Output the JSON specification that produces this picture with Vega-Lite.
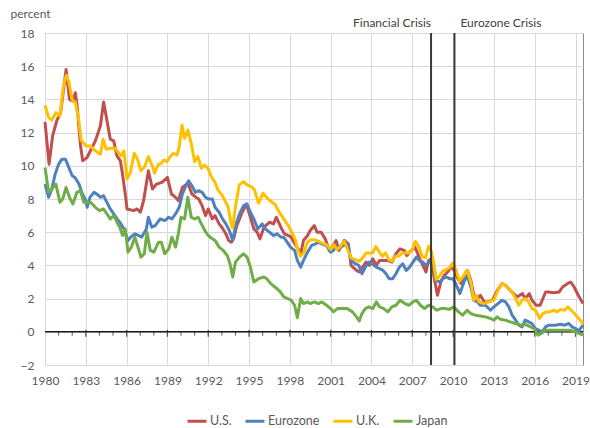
{
"$schema": "https://vega.github.io/schema/vega-lite/v6.json",
"width": 538, "height": 332,
"autosize": {"type": "none"},
"padding": {"left": 45, "top": 33, "right": 7, "bottom": 63},
"config": {
  "font": "Lato",
  "view": {"stroke": "#8c8c8c", "strokeWidth": 1},
  "axis": {"labelColor": "#595959", "labelFontSize": 12, "gridColor": "#d9d9d9", "gridWidth": 1, "domain": false, "ticks": false, "labelOverlap": false}
},
"datasets": {
  "yields": [
{"s":"U.S.","t":1980.0,"v":12.65},{"s":"U.S.","t":1980.3,"v":10.1},{"s":"U.S.","t":1980.56,"v":11.8},{"s":"U.S.","t":1980.86,"v":12.7},{"s":"U.S.","t":1981.15,"v":13.2},{"s":"U.S.","t":1981.55,"v":15.8},{"s":"U.S.","t":1981.8,"v":14.0},{"s":"U.S.","t":1982.05,"v":13.9},{"s":"U.S.","t":1982.23,"v":14.4},{"s":"U.S.","t":1982.35,"v":13.7},{"s":"U.S.","t":1982.6,"v":11.3},{"s":"U.S.","t":1982.77,"v":10.3},{"s":"U.S.","t":1983.09,"v":10.5},{"s":"U.S.","t":1983.46,"v":11.1},{"s":"U.S.","t":1983.7,"v":11.5},{"s":"U.S.","t":1984.07,"v":12.4},{"s":"U.S.","t":1984.31,"v":13.85},{"s":"U.S.","t":1984.56,"v":12.7},{"s":"U.S.","t":1984.8,"v":11.6},{"s":"U.S.","t":1985.05,"v":11.5},{"s":"U.S.","t":1985.29,"v":10.6},{"s":"U.S.","t":1985.54,"v":10.3},{"s":"U.S.","t":1985.66,"v":9.7},{"s":"U.S.","t":1985.9,"v":8.3},{"s":"U.S.","t":1986.03,"v":7.4},{"s":"U.S.","t":1986.52,"v":7.3},{"s":"U.S.","t":1986.77,"v":7.4},{"s":"U.S.","t":1987.01,"v":7.2},{"s":"U.S.","t":1987.25,"v":7.9},{"s":"U.S.","t":1987.6,"v":9.7},{"s":"U.S.","t":1987.9,"v":8.6},{"s":"U.S.","t":1988.2,"v":8.9},{"s":"U.S.","t":1988.6,"v":9.0},{"s":"U.S.","t":1989.0,"v":9.3},{"s":"U.S.","t":1989.3,"v":8.3},{"s":"U.S.","t":1989.6,"v":8.1},{"s":"U.S.","t":1989.8,"v":7.9},{"s":"U.S.","t":1990.1,"v":8.7},{"s":"U.S.","t":1990.5,"v":8.95},{"s":"U.S.","t":1990.8,"v":8.3},{"s":"U.S.","t":1991.1,"v":8.1},{"s":"U.S.","t":1991.3,"v":8.0},{"s":"U.S.","t":1991.55,"v":7.6},{"s":"U.S.","t":1991.8,"v":7.0},{"s":"U.S.","t":1992.0,"v":7.4},{"s":"U.S.","t":1992.3,"v":6.8},{"s":"U.S.","t":1992.5,"v":7.0},{"s":"U.S.","t":1992.8,"v":6.5},{"s":"U.S.","t":1993.0,"v":6.3},{"s":"U.S.","t":1993.3,"v":5.9},{"s":"U.S.","t":1993.5,"v":5.5},{"s":"U.S.","t":1993.7,"v":5.4},{"s":"U.S.","t":1993.9,"v":5.7},{"s":"U.S.","t":1994.1,"v":6.4},{"s":"U.S.","t":1994.5,"v":7.2},{"s":"U.S.","t":1994.8,"v":7.7},{"s":"U.S.","t":1995.1,"v":6.9},{"s":"U.S.","t":1995.35,"v":6.2},{"s":"U.S.","t":1995.6,"v":6.0},{"s":"U.S.","t":1995.8,"v":5.6},{"s":"U.S.","t":1996.1,"v":6.3},{"s":"U.S.","t":1996.5,"v":6.6},{"s":"U.S.","t":1996.8,"v":6.5},{"s":"U.S.","t":1997.0,"v":6.9},{"s":"U.S.","t":1997.4,"v":6.2},{"s":"U.S.","t":1997.6,"v":5.9},{"s":"U.S.","t":1997.9,"v":5.8},{"s":"U.S.","t":1998.1,"v":5.7},{"s":"U.S.","t":1998.3,"v":5.4},{"s":"U.S.","t":1998.6,"v":5.0},{"s":"U.S.","t":1998.8,"v":4.7},{"s":"U.S.","t":1999.0,"v":5.5},{"s":"U.S.","t":1999.3,"v":5.8},{"s":"U.S.","t":1999.5,"v":6.1},{"s":"U.S.","t":1999.8,"v":6.4},{"s":"U.S.","t":2000.0,"v":6.0},{"s":"U.S.","t":2000.3,"v":6.0},{"s":"U.S.","t":2000.6,"v":5.6},{"s":"U.S.","t":2000.9,"v":4.9},{"s":"U.S.","t":2001.1,"v":5.1},{"s":"U.S.","t":2001.4,"v":5.5},{"s":"U.S.","t":2001.6,"v":4.9},{"s":"U.S.","t":2002.0,"v":5.5},{"s":"U.S.","t":2002.3,"v":5.3},{"s":"U.S.","t":2002.5,"v":4.0},{"s":"U.S.","t":2002.9,"v":3.7},{"s":"U.S.","t":2003.1,"v":3.6},{"s":"U.S.","t":2003.35,"v":3.9},{"s":"U.S.","t":2003.6,"v":4.2},{"s":"U.S.","t":2003.85,"v":4.0},{"s":"U.S.","t":2004.1,"v":4.4},{"s":"U.S.","t":2004.35,"v":4.0},{"s":"U.S.","t":2004.6,"v":4.3},{"s":"U.S.","t":2004.85,"v":4.3},{"s":"U.S.","t":2005.2,"v":4.3},{"s":"U.S.","t":2005.5,"v":4.2},{"s":"U.S.","t":2005.8,"v":4.7},{"s":"U.S.","t":2006.1,"v":5.0},{"s":"U.S.","t":2006.4,"v":4.9},{"s":"U.S.","t":2006.6,"v":4.6},{"s":"U.S.","t":2006.8,"v":4.8},{"s":"U.S.","t":2007.2,"v":5.1},{"s":"U.S.","t":2007.4,"v":4.7},{"s":"U.S.","t":2007.6,"v":4.3},{"s":"U.S.","t":2007.9,"v":3.8},{"s":"U.S.","t":2008.0,"v":3.6},{"s":"U.S.","t":2008.2,"v":4.3},{"s":"U.S.","t":2008.4,"v":4.4},{"s":"U.S.","t":2008.6,"v":3.3},{"s":"U.S.","t":2008.85,"v":2.2},{"s":"U.S.","t":2009.1,"v":3.0},{"s":"U.S.","t":2009.35,"v":3.4},{"s":"U.S.","t":2009.6,"v":3.6},{"s":"U.S.","t":2009.85,"v":3.9},{"s":"U.S.","t":2010.1,"v":3.7},{"s":"U.S.","t":2010.35,"v":3.2},{"s":"U.S.","t":2010.6,"v":2.9},{"s":"U.S.","t":2010.8,"v":3.4},{"s":"U.S.","t":2011.05,"v":3.7},{"s":"U.S.","t":2011.3,"v":3.1},{"s":"U.S.","t":2011.55,"v":2.1},{"s":"U.S.","t":2011.8,"v":2.0},{"s":"U.S.","t":2012.0,"v":2.2},{"s":"U.S.","t":2012.3,"v":1.8},{"s":"U.S.","t":2012.55,"v":1.8},{"s":"U.S.","t":2012.9,"v":1.9},{"s":"U.S.","t":2013.25,"v":2.5},{"s":"U.S.","t":2013.6,"v":2.9},{"s":"U.S.","t":2013.85,"v":2.8},{"s":"U.S.","t":2014.2,"v":2.5},{"s":"U.S.","t":2014.45,"v":2.3},{"s":"U.S.","t":2014.7,"v":2.1},{"s":"U.S.","t":2015.1,"v":2.3},{"s":"U.S.","t":2015.3,"v":2.0},{"s":"U.S.","t":2015.6,"v":2.3},{"s":"U.S.","t":2015.8,"v":1.9},{"s":"U.S.","t":2016.1,"v":1.6},{"s":"U.S.","t":2016.4,"v":1.6},{"s":"U.S.","t":2016.8,"v":2.4},{"s":"U.S.","t":2017.0,"v":2.4},{"s":"U.S.","t":2017.4,"v":2.35},{"s":"U.S.","t":2017.8,"v":2.4},{"s":"U.S.","t":2018.05,"v":2.7},{"s":"U.S.","t":2018.4,"v":2.9},{"s":"U.S.","t":2018.65,"v":3.0},{"s":"U.S.","t":2018.9,"v":2.7},{"s":"U.S.","t":2019.2,"v":2.2},{"s":"U.S.","t":2019.55,"v":1.7},
{"s":"Eurozone","t":1980.0,"v":8.9},{"s":"Eurozone","t":1980.27,"v":8.1},{"s":"Eurozone","t":1980.5,"v":8.6},{"s":"Eurozone","t":1980.75,"v":9.5},{"s":"Eurozone","t":1981.0,"v":10.1},{"s":"Eurozone","t":1981.25,"v":10.4},{"s":"Eurozone","t":1981.5,"v":10.4},{"s":"Eurozone","t":1981.75,"v":9.9},{"s":"Eurozone","t":1982.0,"v":9.4},{"s":"Eurozone","t":1982.2,"v":9.3},{"s":"Eurozone","t":1982.5,"v":8.9},{"s":"Eurozone","t":1982.7,"v":8.4},{"s":"Eurozone","t":1983.0,"v":7.9},{"s":"Eurozone","t":1983.1,"v":7.5},{"s":"Eurozone","t":1983.3,"v":8.1},{"s":"Eurozone","t":1983.6,"v":8.4},{"s":"Eurozone","t":1983.8,"v":8.3},{"s":"Eurozone","t":1984.1,"v":8.1},{"s":"Eurozone","t":1984.3,"v":8.2},{"s":"Eurozone","t":1984.55,"v":7.8},{"s":"Eurozone","t":1984.8,"v":7.4},{"s":"Eurozone","t":1985.05,"v":7.1},{"s":"Eurozone","t":1985.3,"v":6.8},{"s":"Eurozone","t":1985.5,"v":6.6},{"s":"Eurozone","t":1985.8,"v":6.2},{"s":"Eurozone","t":1986.1,"v":5.5},{"s":"Eurozone","t":1986.3,"v":5.7},{"s":"Eurozone","t":1986.6,"v":5.9},{"s":"Eurozone","t":1986.9,"v":5.8},{"s":"Eurozone","t":1987.1,"v":5.7},{"s":"Eurozone","t":1987.45,"v":6.2},{"s":"Eurozone","t":1987.6,"v":6.9},{"s":"Eurozone","t":1987.85,"v":6.3},{"s":"Eurozone","t":1988.1,"v":6.4},{"s":"Eurozone","t":1988.47,"v":6.8},{"s":"Eurozone","t":1988.8,"v":6.7},{"s":"Eurozone","t":1989.1,"v":6.9},{"s":"Eurozone","t":1989.33,"v":6.8},{"s":"Eurozone","t":1989.6,"v":7.1},{"s":"Eurozone","t":1989.87,"v":7.5},{"s":"Eurozone","t":1990.1,"v":8.3},{"s":"Eurozone","t":1990.36,"v":8.8},{"s":"Eurozone","t":1990.56,"v":9.1},{"s":"Eurozone","t":1990.8,"v":8.8},{"s":"Eurozone","t":1991.05,"v":8.4},{"s":"Eurozone","t":1991.3,"v":8.5},{"s":"Eurozone","t":1991.55,"v":8.4},{"s":"Eurozone","t":1991.8,"v":8.1},{"s":"Eurozone","t":1992.0,"v":8.0},{"s":"Eurozone","t":1992.3,"v":8.0},{"s":"Eurozone","t":1992.5,"v":7.5},{"s":"Eurozone","t":1992.8,"v":7.2},{"s":"Eurozone","t":1993.05,"v":6.8},{"s":"Eurozone","t":1993.3,"v":6.5},{"s":"Eurozone","t":1993.55,"v":6.1},{"s":"Eurozone","t":1993.8,"v":5.5},{"s":"Eurozone","t":1994.04,"v":6.5},{"s":"Eurozone","t":1994.3,"v":7.1},{"s":"Eurozone","t":1994.6,"v":7.6},{"s":"Eurozone","t":1994.85,"v":7.7},{"s":"Eurozone","t":1995.1,"v":7.2},{"s":"Eurozone","t":1995.35,"v":6.8},{"s":"Eurozone","t":1995.64,"v":6.2},{"s":"Eurozone","t":1995.96,"v":6.5},{"s":"Eurozone","t":1996.2,"v":6.2},{"s":"Eurozone","t":1996.5,"v":6.0},{"s":"Eurozone","t":1996.8,"v":5.8},{"s":"Eurozone","t":1997.06,"v":5.9},{"s":"Eurozone","t":1997.35,"v":5.7},{"s":"Eurozone","t":1997.55,"v":5.7},{"s":"Eurozone","t":1997.8,"v":5.4},{"s":"Eurozone","t":1998.05,"v":5.1},{"s":"Eurozone","t":1998.35,"v":4.9},{"s":"Eurozone","t":1998.55,"v":4.3},{"s":"Eurozone","t":1998.8,"v":3.9},{"s":"Eurozone","t":1999.0,"v":4.3},{"s":"Eurozone","t":1999.3,"v":4.8},{"s":"Eurozone","t":1999.6,"v":5.2},{"s":"Eurozone","t":1999.9,"v":5.3},{"s":"Eurozone","t":2000.1,"v":5.4},{"s":"Eurozone","t":2000.35,"v":5.3},{"s":"Eurozone","t":2000.7,"v":5.2},{"s":"Eurozone","t":2001.0,"v":4.8},{"s":"Eurozone","t":2001.2,"v":4.9},{"s":"Eurozone","t":2001.5,"v":5.2},{"s":"Eurozone","t":2001.7,"v":5.1},{"s":"Eurozone","t":2002.0,"v":5.2},{"s":"Eurozone","t":2002.25,"v":5.3},{"s":"Eurozone","t":2002.5,"v":4.3},{"s":"Eurozone","t":2002.8,"v":4.1},{"s":"Eurozone","t":2003.07,"v":4.0},{"s":"Eurozone","t":2003.3,"v":3.5},{"s":"Eurozone","t":2003.55,"v":3.9},{"s":"Eurozone","t":2003.8,"v":4.2},{"s":"Eurozone","t":2004.05,"v":4.1},{"s":"Eurozone","t":2004.35,"v":3.9},{"s":"Eurozone","t":2004.6,"v":3.8},{"s":"Eurozone","t":2004.85,"v":3.7},{"s":"Eurozone","t":2005.07,"v":3.5},{"s":"Eurozone","t":2005.3,"v":3.2},{"s":"Eurozone","t":2005.56,"v":3.2},{"s":"Eurozone","t":2005.8,"v":3.5},{"s":"Eurozone","t":2006.05,"v":3.9},{"s":"Eurozone","t":2006.3,"v":4.1},{"s":"Eurozone","t":2006.55,"v":3.7},{"s":"Eurozone","t":2006.8,"v":3.9},{"s":"Eurozone","t":2007.05,"v":4.2},{"s":"Eurozone","t":2007.3,"v":4.5},{"s":"Eurozone","t":2007.5,"v":4.3},{"s":"Eurozone","t":2007.77,"v":4.2},{"s":"Eurozone","t":2008.0,"v":4.0},{"s":"Eurozone","t":2008.26,"v":4.2},{"s":"Eurozone","t":2008.5,"v":4.3},{"s":"Eurozone","t":2008.75,"v":3.1},{"s":"Eurozone","t":2009.0,"v":3.0},{"s":"Eurozone","t":2009.24,"v":3.2},{"s":"Eurozone","t":2009.5,"v":3.3},{"s":"Eurozone","t":2009.73,"v":3.2},{"s":"Eurozone","t":2009.98,"v":3.2},{"s":"Eurozone","t":2010.2,"v":2.9},{"s":"Eurozone","t":2010.5,"v":2.3},{"s":"Eurozone","t":2010.8,"v":3.0},{"s":"Eurozone","t":2011.03,"v":3.4},{"s":"Eurozone","t":2011.3,"v":2.7},{"s":"Eurozone","t":2011.52,"v":1.9},{"s":"Eurozone","t":2011.8,"v":1.8},{"s":"Eurozone","t":2012.0,"v":1.6},{"s":"Eurozone","t":2012.38,"v":1.6},{"s":"Eurozone","t":2012.75,"v":1.3},{"s":"Eurozone","t":2013.0,"v":1.5},{"s":"Eurozone","t":2013.3,"v":1.7},{"s":"Eurozone","t":2013.6,"v":1.9},{"s":"Eurozone","t":2013.85,"v":1.8},{"s":"Eurozone","t":2014.1,"v":1.5},{"s":"Eurozone","t":2014.34,"v":1.0},{"s":"Eurozone","t":2014.6,"v":0.7},{"s":"Eurozone","t":2014.83,"v":0.4},{"s":"Eurozone","t":2015.07,"v":0.3},{"s":"Eurozone","t":2015.3,"v":0.7},{"s":"Eurozone","t":2015.56,"v":0.6},{"s":"Eurozone","t":2015.8,"v":0.5},{"s":"Eurozone","t":2016.05,"v":0.2},{"s":"Eurozone","t":2016.3,"v":0.1},{"s":"Eurozone","t":2016.54,"v":0.0},{"s":"Eurozone","t":2016.8,"v":0.3},{"s":"Eurozone","t":2017.03,"v":0.4},{"s":"Eurozone","t":2017.28,"v":0.4},{"s":"Eurozone","t":2017.5,"v":0.4},{"s":"Eurozone","t":2017.9,"v":0.45},{"s":"Eurozone","t":2018.2,"v":0.4},{"s":"Eurozone","t":2018.5,"v":0.5},{"s":"Eurozone","t":2018.75,"v":0.3},{"s":"Eurozone","t":2019.0,"v":0.2},{"s":"Eurozone","t":2019.24,"v":0.05},{"s":"Eurozone","t":2019.55,"v":0.4},
{"s":"U.K.","t":1980.0,"v":13.65},{"s":"U.K.","t":1980.27,"v":12.9},{"s":"U.K.","t":1980.5,"v":12.75},{"s":"U.K.","t":1980.8,"v":13.2},{"s":"U.K.","t":1981.1,"v":13.0},{"s":"U.K.","t":1981.37,"v":14.9},{"s":"U.K.","t":1981.57,"v":15.45},{"s":"U.K.","t":1981.76,"v":15.05},{"s":"U.K.","t":1982.0,"v":13.95},{"s":"U.K.","t":1982.23,"v":13.85},{"s":"U.K.","t":1982.5,"v":12.65},{"s":"U.K.","t":1982.65,"v":11.55},{"s":"U.K.","t":1983.0,"v":11.2},{"s":"U.K.","t":1983.33,"v":11.2},{"s":"U.K.","t":1983.7,"v":10.9},{"s":"U.K.","t":1984.07,"v":10.7},{"s":"U.K.","t":1984.27,"v":11.6},{"s":"U.K.","t":1984.5,"v":11.0},{"s":"U.K.","t":1984.8,"v":11.05},{"s":"U.K.","t":1985.17,"v":11.05},{"s":"U.K.","t":1985.4,"v":10.8},{"s":"U.K.","t":1985.6,"v":10.6},{"s":"U.K.","t":1985.8,"v":10.9},{"s":"U.K.","t":1986.03,"v":9.2},{"s":"U.K.","t":1986.27,"v":9.6},{"s":"U.K.","t":1986.57,"v":10.75},{"s":"U.K.","t":1986.8,"v":10.4},{"s":"U.K.","t":1987.05,"v":9.7},{"s":"U.K.","t":1987.3,"v":9.9},{"s":"U.K.","t":1987.6,"v":10.55},{"s":"U.K.","t":1987.86,"v":10.05},{"s":"U.K.","t":1988.06,"v":9.55},{"s":"U.K.","t":1988.3,"v":10.05},{"s":"U.K.","t":1988.55,"v":10.15},{"s":"U.K.","t":1988.72,"v":10.35},{"s":"U.K.","t":1988.96,"v":10.25},{"s":"U.K.","t":1989.2,"v":10.55},{"s":"U.K.","t":1989.45,"v":10.75},{"s":"U.K.","t":1989.7,"v":10.65},{"s":"U.K.","t":1989.87,"v":11.15},{"s":"U.K.","t":1990.07,"v":12.45},{"s":"U.K.","t":1990.26,"v":11.65},{"s":"U.K.","t":1990.5,"v":12.15},{"s":"U.K.","t":1990.75,"v":11.35},{"s":"U.K.","t":1991.0,"v":10.25},{"s":"U.K.","t":1991.24,"v":10.55},{"s":"U.K.","t":1991.5,"v":9.85},{"s":"U.K.","t":1991.73,"v":10.05},{"s":"U.K.","t":1991.98,"v":9.85},{"s":"U.K.","t":1992.22,"v":9.35},{"s":"U.K.","t":1992.47,"v":9.05},{"s":"U.K.","t":1992.71,"v":8.55},{"s":"U.K.","t":1993.0,"v":8.25},{"s":"U.K.","t":1993.2,"v":7.95},{"s":"U.K.","t":1993.45,"v":7.55},{"s":"U.K.","t":1993.7,"v":6.45},{"s":"U.K.","t":1993.8,"v":6.25},{"s":"U.K.","t":1994.0,"v":7.55},{"s":"U.K.","t":1994.28,"v":8.85},{"s":"U.K.","t":1994.6,"v":9.05},{"s":"U.K.","t":1994.85,"v":8.85},{"s":"U.K.","t":1995.17,"v":8.75},{"s":"U.K.","t":1995.4,"v":8.55},{"s":"U.K.","t":1995.7,"v":7.75},{"s":"U.K.","t":1996.03,"v":8.35},{"s":"U.K.","t":1996.33,"v":8.05},{"s":"U.K.","t":1996.62,"v":7.85},{"s":"U.K.","t":1996.94,"v":7.65},{"s":"U.K.","t":1997.18,"v":7.25},{"s":"U.K.","t":1997.43,"v":6.95},{"s":"U.K.","t":1997.67,"v":6.65},{"s":"U.K.","t":1997.92,"v":6.35},{"s":"U.K.","t":1998.16,"v":5.95},{"s":"U.K.","t":1998.4,"v":5.55},{"s":"U.K.","t":1998.58,"v":4.95},{"s":"U.K.","t":1998.78,"v":4.55},{"s":"U.K.","t":1999.02,"v":4.75},{"s":"U.K.","t":1999.27,"v":5.35},{"s":"U.K.","t":1999.5,"v":5.55},{"s":"U.K.","t":1999.8,"v":5.55},{"s":"U.K.","t":2000.12,"v":5.45},{"s":"U.K.","t":2000.37,"v":5.35},{"s":"U.K.","t":2000.69,"v":5.25},{"s":"U.K.","t":2001.0,"v":4.95},{"s":"U.K.","t":2001.22,"v":5.25},{"s":"U.K.","t":2001.47,"v":4.95},{"s":"U.K.","t":2001.72,"v":5.15},{"s":"U.K.","t":2002.0,"v":5.45},{"s":"U.K.","t":2002.25,"v":4.95},{"s":"U.K.","t":2002.5,"v":4.45},{"s":"U.K.","t":2002.8,"v":4.35},{"s":"U.K.","t":2003.1,"v":4.25},{"s":"U.K.","t":2003.36,"v":4.45},{"s":"U.K.","t":2003.6,"v":4.75},{"s":"U.K.","t":2003.85,"v":4.75},{"s":"U.K.","t":2004.1,"v":4.75},{"s":"U.K.","t":2004.3,"v":5.15},{"s":"U.K.","t":2004.55,"v":4.85},{"s":"U.K.","t":2004.8,"v":4.55},{"s":"U.K.","t":2005.03,"v":4.75},{"s":"U.K.","t":2005.27,"v":4.35},{"s":"U.K.","t":2005.5,"v":4.25},{"s":"U.K.","t":2005.76,"v":4.55},{"s":"U.K.","t":2006.0,"v":4.55},{"s":"U.K.","t":2006.25,"v":4.75},{"s":"U.K.","t":2006.5,"v":4.75},{"s":"U.K.","t":2006.75,"v":4.75},{"s":"U.K.","t":2007.0,"v":4.95},{"s":"U.K.","t":2007.23,"v":5.45},{"s":"U.K.","t":2007.47,"v":5.15},{"s":"U.K.","t":2007.72,"v":4.55},{"s":"U.K.","t":2007.97,"v":4.45},{"s":"U.K.","t":2008.2,"v":5.15},{"s":"U.K.","t":2008.4,"v":4.85},{"s":"U.K.","t":2008.58,"v":4.15},{"s":"U.K.","t":2008.75,"v":3.15},{"s":"U.K.","t":2009.0,"v":3.35},{"s":"U.K.","t":2009.24,"v":3.65},{"s":"U.K.","t":2009.5,"v":3.75},{"s":"U.K.","t":2009.73,"v":3.85},{"s":"U.K.","t":2009.98,"v":4.15},{"s":"U.K.","t":2010.2,"v":3.75},{"s":"U.K.","t":2010.47,"v":3.05},{"s":"U.K.","t":2010.8,"v":3.4},{"s":"U.K.","t":2011.03,"v":3.7},{"s":"U.K.","t":2011.3,"v":3.0},{"s":"U.K.","t":2011.52,"v":1.9},{"s":"U.K.","t":2011.7,"v":2.2},{"s":"U.K.","t":2011.9,"v":1.8},{"s":"U.K.","t":2012.26,"v":1.7},{"s":"U.K.","t":2012.62,"v":1.8},{"s":"U.K.","t":2013.0,"v":1.9},{"s":"U.K.","t":2013.3,"v":2.5},{"s":"U.K.","t":2013.6,"v":2.9},{"s":"U.K.","t":2013.85,"v":2.8},{"s":"U.K.","t":2014.1,"v":2.6},{"s":"U.K.","t":2014.34,"v":2.4},{"s":"U.K.","t":2014.6,"v":2.0},{"s":"U.K.","t":2014.83,"v":1.6},{"s":"U.K.","t":2015.07,"v":1.9},{"s":"U.K.","t":2015.3,"v":2.0},{"s":"U.K.","t":2015.56,"v":1.8},{"s":"U.K.","t":2015.8,"v":1.4},{"s":"U.K.","t":2016.05,"v":1.3},{"s":"U.K.","t":2016.37,"v":0.8},{"s":"U.K.","t":2016.6,"v":1.1},{"s":"U.K.","t":2016.86,"v":1.2},{"s":"U.K.","t":2017.1,"v":1.2},{"s":"U.K.","t":2017.4,"v":1.3},{"s":"U.K.","t":2017.65,"v":1.2},{"s":"U.K.","t":2017.9,"v":1.35},{"s":"U.K.","t":2018.2,"v":1.3},{"s":"U.K.","t":2018.43,"v":1.5},{"s":"U.K.","t":2018.68,"v":1.3},{"s":"U.K.","t":2018.92,"v":1.1},{"s":"U.K.","t":2019.24,"v":0.8},{"s":"U.K.","t":2019.55,"v":0.5},
{"s":"Japan","t":1980.0,"v":9.9},{"s":"Japan","t":1980.27,"v":8.4},{"s":"Japan","t":1980.5,"v":8.6},{"s":"Japan","t":1980.8,"v":8.9},{"s":"Japan","t":1981.1,"v":7.8},{"s":"Japan","t":1981.3,"v":8.0},{"s":"Japan","t":1981.55,"v":8.7},{"s":"Japan","t":1981.8,"v":8.1},{"s":"Japan","t":1982.05,"v":7.7},{"s":"Japan","t":1982.35,"v":8.4},{"s":"Japan","t":1982.6,"v":8.5},{"s":"Japan","t":1982.85,"v":7.8},{"s":"Japan","t":1983.1,"v":7.8},{"s":"Japan","t":1983.35,"v":7.8},{"s":"Japan","t":1983.7,"v":7.5},{"s":"Japan","t":1984.0,"v":7.3},{"s":"Japan","t":1984.3,"v":7.4},{"s":"Japan","t":1984.55,"v":7.1},{"s":"Japan","t":1984.8,"v":6.8},{"s":"Japan","t":1985.05,"v":7.0},{"s":"Japan","t":1985.3,"v":6.6},{"s":"Japan","t":1985.5,"v":6.3},{"s":"Japan","t":1985.7,"v":5.8},{"s":"Japan","t":1985.9,"v":6.2},{"s":"Japan","t":1986.1,"v":4.8},{"s":"Japan","t":1986.35,"v":5.1},{"s":"Japan","t":1986.6,"v":5.7},{"s":"Japan","t":1986.8,"v":5.2},{"s":"Japan","t":1987.05,"v":4.5},{"s":"Japan","t":1987.3,"v":4.7},{"s":"Japan","t":1987.5,"v":6.0},{"s":"Japan","t":1987.74,"v":4.9},{"s":"Japan","t":1988.0,"v":4.8},{"s":"Japan","t":1988.35,"v":5.4},{"s":"Japan","t":1988.55,"v":5.4},{"s":"Japan","t":1988.8,"v":4.7},{"s":"Japan","t":1989.1,"v":5.0},{"s":"Japan","t":1989.33,"v":5.7},{"s":"Japan","t":1989.6,"v":5.1},{"s":"Japan","t":1989.8,"v":5.9},{"s":"Japan","t":1990.0,"v":6.9},{"s":"Japan","t":1990.26,"v":6.8},{"s":"Japan","t":1990.5,"v":8.1},{"s":"Japan","t":1990.75,"v":6.9},{"s":"Japan","t":1991.0,"v":6.8},{"s":"Japan","t":1991.25,"v":6.9},{"s":"Japan","t":1991.5,"v":6.5},{"s":"Japan","t":1991.75,"v":6.1},{"s":"Japan","t":1992.0,"v":5.8},{"s":"Japan","t":1992.3,"v":5.6},{"s":"Japan","t":1992.5,"v":5.5},{"s":"Japan","t":1992.8,"v":5.1},{"s":"Japan","t":1993.1,"v":4.9},{"s":"Japan","t":1993.4,"v":4.6},{"s":"Japan","t":1993.6,"v":4.1},{"s":"Japan","t":1993.8,"v":3.3},{"s":"Japan","t":1994.0,"v":4.2},{"s":"Japan","t":1994.3,"v":4.5},{"s":"Japan","t":1994.6,"v":4.7},{"s":"Japan","t":1994.85,"v":4.5},{"s":"Japan","t":1995.1,"v":3.9},{"s":"Japan","t":1995.35,"v":3.0},{"s":"Japan","t":1995.7,"v":3.2},{"s":"Japan","t":1996.1,"v":3.3},{"s":"Japan","t":1996.3,"v":3.2},{"s":"Japan","t":1996.6,"v":2.9},{"s":"Japan","t":1996.9,"v":2.7},{"s":"Japan","t":1997.3,"v":2.4},{"s":"Japan","t":1997.55,"v":2.1},{"s":"Japan","t":1997.85,"v":2.0},{"s":"Japan","t":1998.1,"v":1.9},{"s":"Japan","t":1998.35,"v":1.6},{"s":"Japan","t":1998.55,"v":0.85},{"s":"Japan","t":1998.8,"v":2.0},{"s":"Japan","t":1999.0,"v":1.7},{"s":"Japan","t":1999.3,"v":1.8},{"s":"Japan","t":1999.5,"v":1.7},{"s":"Japan","t":1999.8,"v":1.8},{"s":"Japan","t":2000.1,"v":1.7},{"s":"Japan","t":2000.35,"v":1.8},{"s":"Japan","t":2000.7,"v":1.6},{"s":"Japan","t":2001.0,"v":1.4},{"s":"Japan","t":2001.2,"v":1.2},{"s":"Japan","t":2001.5,"v":1.4},{"s":"Japan","t":2001.85,"v":1.4},{"s":"Japan","t":2002.2,"v":1.4},{"s":"Japan","t":2002.6,"v":1.2},{"s":"Japan","t":2002.9,"v":0.9},{"s":"Japan","t":2003.1,"v":0.65},{"s":"Japan","t":2003.3,"v":1.1},{"s":"Japan","t":2003.55,"v":1.4},{"s":"Japan","t":2003.8,"v":1.5},{"s":"Japan","t":2004.1,"v":1.4},{"s":"Japan","t":2004.35,"v":1.8},{"s":"Japan","t":2004.6,"v":1.5},{"s":"Japan","t":2004.9,"v":1.4},{"s":"Japan","t":2005.2,"v":1.2},{"s":"Japan","t":2005.5,"v":1.5},{"s":"Japan","t":2005.8,"v":1.6},{"s":"Japan","t":2006.1,"v":1.9},{"s":"Japan","t":2006.45,"v":1.7},{"s":"Japan","t":2006.75,"v":1.6},{"s":"Japan","t":2007.05,"v":1.8},{"s":"Japan","t":2007.3,"v":1.9},{"s":"Japan","t":2007.6,"v":1.6},{"s":"Japan","t":2007.9,"v":1.4},{"s":"Japan","t":2008.2,"v":1.6},{"s":"Japan","t":2008.5,"v":1.5},{"s":"Japan","t":2008.8,"v":1.3},{"s":"Japan","t":2009.1,"v":1.4},{"s":"Japan","t":2009.4,"v":1.4},{"s":"Japan","t":2009.7,"v":1.35},{"s":"Japan","t":2010.05,"v":1.5},{"s":"Japan","t":2010.4,"v":1.2},{"s":"Japan","t":2010.7,"v":1.0},{"s":"Japan","t":2011.03,"v":1.3},{"s":"Japan","t":2011.3,"v":1.1},{"s":"Japan","t":2011.64,"v":1.0},{"s":"Japan","t":2012.0,"v":0.95},{"s":"Japan","t":2012.38,"v":0.9},{"s":"Japan","t":2012.75,"v":0.8},{"s":"Japan","t":2013.0,"v":0.7},{"s":"Japan","t":2013.24,"v":0.9},{"s":"Japan","t":2013.48,"v":0.75},{"s":"Japan","t":2013.85,"v":0.7},{"s":"Japan","t":2014.2,"v":0.6},{"s":"Japan","t":2014.6,"v":0.5},{"s":"Japan","t":2014.95,"v":0.4},{"s":"Japan","t":2015.3,"v":0.45},{"s":"Japan","t":2015.7,"v":0.3},{"s":"Japan","t":2016.0,"v":0.15},{"s":"Japan","t":2016.23,"v":-0.2},{"s":"Japan","t":2016.5,"v":-0.1},{"s":"Japan","t":2016.8,"v":0.1},{"s":"Japan","t":2017.2,"v":0.1},{"s":"Japan","t":2017.5,"v":0.1},{"s":"Japan","t":2017.9,"v":0.1},{"s":"Japan","t":2018.3,"v":0.1},{"s":"Japan","t":2018.6,"v":0.1},{"s":"Japan","t":2019.0,"v":0.0},{"s":"Japan","t":2019.25,"v":-0.1},{"s":"Japan","t":2019.55,"v":-0.2}
  ],
  "years": [{"t":1981,"v":0},{"t":1982,"v":0},{"t":1984,"v":0},{"t":1985,"v":0},{"t":1987,"v":0},{"t":1988,"v":0},{"t":1990,"v":0},{"t":1991,"v":0},{"t":1993,"v":0},{"t":1994,"v":0},{"t":1996,"v":0},{"t":1997,"v":0},{"t":1999,"v":0},{"t":2000,"v":0},{"t":2002,"v":0},{"t":2003,"v":0},{"t":2005,"v":0},{"t":2006,"v":0},{"t":2008,"v":0},{"t":2009,"v":0},{"t":2011,"v":0},{"t":2012,"v":0},{"t":2014,"v":0},{"t":2015,"v":0},{"t":2017,"v":0},{"t":2018,"v":0}],
  "majors": [{"t":1983,"v":0},{"t":1986,"v":0},{"t":1989,"v":0},{"t":1992,"v":0},{"t":1995,"v":0},{"t":1998,"v":0},{"t":2001,"v":0},{"t":2004,"v":0},{"t":2007,"v":0},{"t":2010,"v":0},{"t":2013,"v":0},{"t":2016,"v":0},{"t":2019,"v":0}],
  "zero": [{"v":0}],
  "events": [{"t":2008.38,"v":18,"name":"Financial Crisis"},{"t":2010.1,"v":18,"name":"Eurozone Crisis"}]
},
"encoding": {
  "y": {"field": "v", "type": "quantitative", "scale": {"domain": [-2, 18], "nice": false, "zero": false},
    "axis": {"values": [-2,0,2,4,6,8,10,12,14,16,18], "labelOverlap": false, "title": "percent", "titleAngle": 0, "titleAlign": "left", "titleBaseline": "alphabetic", "titleX": -35, "titleY": -16, "titleFontWeight": "normal", "titleColor": "#595959", "titleFontSize": 12, "labelPadding": 11}}
},
"layer": [
  {
    "data": {"name": "zero"},
    "mark": {"type": "rule", "color": "#1a1a1a", "strokeWidth": 1.4}
  },
  {
    "data": {"name": "years"},
    "mark": {"type": "tick", "orient": "vertical", "color": "#1a1a1a", "size": 4, "yOffset": 2, "thickness": 1},
    "encoding": {"x": {"field": "t", "type": "quantitative"}}
  },
  {
    "data": {"name": "majors"},
    "mark": {"type": "tick", "orient": "vertical", "color": "#1a1a1a", "size": 7, "yOffset": 1.5, "thickness": 1.3},
    "encoding": {"x": {"field": "t", "type": "quantitative"}}
  },
  {
    "data": {"name": "yields"},
    "mark": {"type": "line", "strokeWidth": 3, "strokeJoin": "round"},
    "encoding": {
      "x": {"field": "t", "type": "quantitative", "scale": {"domain": [1980, 2019.55], "nice": false, "zero": false},
        "axis": {"title": null, "values": [1980,1983,1986,1989,1992,1995,1998,2001,2004,2007,2010,2013,2016,2019], "format": "d", "labelPadding": 10, "labelFlush": false}},
      "color": {"field": "s", "type": "nominal",
        "scale": {"domain": ["U.S.", "Eurozone", "U.K.", "Japan"], "range": ["#c0504d", "#4f81bd", "#ffc000", "#70ad47"]},
        "legend": {"title": null, "orient": "none", "legendX": 141, "legendY": 377, "direction": "horizontal", "symbolType": "stroke", "symbolSize": 361, "symbolStrokeWidth": 3, "labelFontSize": 12.5, "labelColor": "#595959", "labelOffset": 2, "columnPadding": 7}}
    }
  },
  {
    "data": {"name": "events"},
    "mark": {"type": "rule", "color": "#3a3a3a", "strokeWidth": 2},
    "encoding": {"x": {"field": "t", "type": "quantitative"}, "y": null}
  },
  {
    "data": {"name": "events"},
    "transform": [{"filter": "datum.name == 'Financial Crisis'"}],
    "mark": {"type": "text", "align": "right", "baseline": "alphabetic", "dx": 0, "dy": -6, "fontSize": 12, "color": "#404040"},
    "encoding": {"x": {"field": "t", "type": "quantitative"}, "text": {"field": "name"}}
  },
  {
    "data": {"name": "events"},
    "transform": [{"filter": "datum.name == 'Eurozone Crisis'"}],
    "mark": {"type": "text", "align": "left", "baseline": "alphabetic", "dx": 6, "dy": -6, "fontSize": 12, "color": "#404040"},
    "encoding": {"x": {"field": "t", "type": "quantitative"}, "text": {"field": "name"}}
  }
]
}
